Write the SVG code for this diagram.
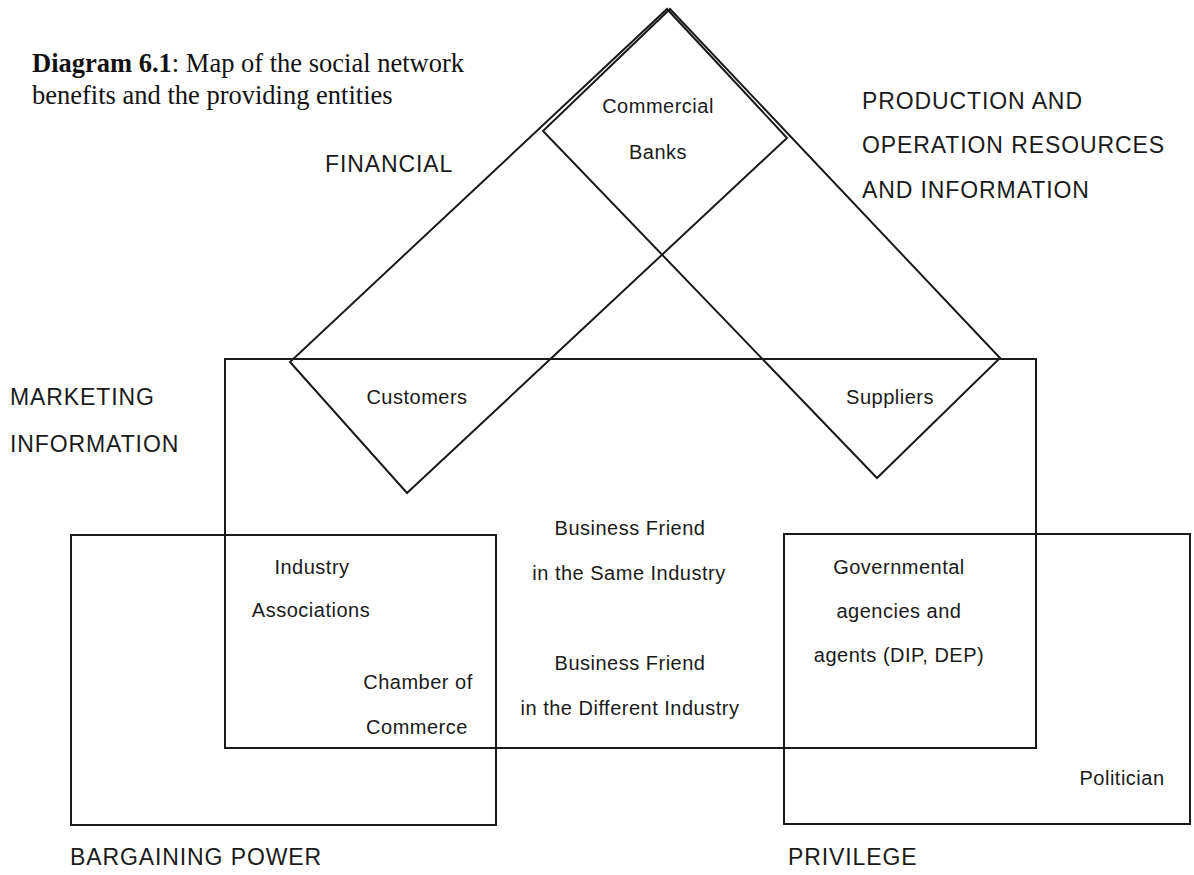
<svg xmlns="http://www.w3.org/2000/svg" width="1194" height="875" viewBox="0 0 1194 875">
  <style>
    .shape { fill: none; stroke: #1a1a1a; stroke-width: 2; stroke-linejoin: miter; }
    .label { font-family: "Liberation Sans", Arial, sans-serif; font-size: 20px; letter-spacing: 0.5px; fill: #1a1a1a; text-anchor: middle; }
    .cat { font-family: "Liberation Sans", Arial, sans-serif; font-size: 23px; letter-spacing: 0.9px; fill: #1a1a1a; }
    .title { font-family: "Liberation Serif", "Times New Roman", serif; font-size: 26.5px; fill: #111; }
  </style>
  <rect x="0" y="0" width="1194" height="875" fill="#ffffff"/>

  <!-- caption -->
  <text class="title" x="32" y="72"><tspan font-weight="bold">Diagram 6.1</tspan>: Map of the social network</text>
  <text class="title" x="32" y="104">benefits and the providing entities</text>

  <!-- benefit areas (outlines) -->
  <g id="connectors">
    <polygon id="financial-area" class="shape" points="667,9 787,138 407,493 290,362"/>
    <polygon id="production-area" class="shape" points="670,9 1000,358 877,478 543,131"/>
    <rect id="marketing-area" class="shape" x="225" y="359" width="811" height="389"/>
    <rect id="bargaining-area" class="shape" x="71" y="535" width="425" height="290"/>
    <rect id="privilege-area" class="shape" x="784" y="534" width="406" height="290"/>
  </g>

  <!-- benefit category labels -->
  <g id="cat-financial"><text class="cat" x="325" y="172">FINANCIAL</text></g>
  <g id="cat-production">
    <text class="cat" x="862" y="109">PRODUCTION AND</text>
    <text class="cat" x="862" y="153">OPERATION RESOURCES</text>
    <text class="cat" x="862" y="198">AND INFORMATION</text>
  </g>
  <g id="cat-marketing">
    <text class="cat" x="10" y="405">MARKETING</text>
    <text class="cat" x="10" y="452">INFORMATION</text>
  </g>
  <g id="cat-bargaining"><text class="cat" x="70" y="865">BARGAINING POWER</text></g>
  <g id="cat-privilege"><text class="cat" x="788" y="865">PRIVILEGE</text></g>

  <!-- providing entities -->
  <g id="commercial-banks">
    <text class="label" x="658" y="113">Commercial</text>
    <text class="label" x="658" y="159">Banks</text>
  </g>
  <g id="customers"><text class="label" x="417" y="404">Customers</text></g>
  <g id="suppliers"><text class="label" x="890" y="404">Suppliers</text></g>
  <g id="friend-same">
    <text class="label" x="630" y="535">Business Friend</text>
    <text class="label" x="629" y="580">in the Same Industry</text>
  </g>
  <g id="friend-different">
    <text class="label" x="630" y="670">Business Friend</text>
    <text class="label" x="630" y="715">in the Different Industry</text>
  </g>
  <g id="industry-associations">
    <text class="label" x="312" y="574">Industry</text>
    <text class="label" x="311" y="617">Associations</text>
  </g>
  <g id="chamber-of-commerce">
    <text class="label" x="418" y="689">Chamber of</text>
    <text class="label" x="417" y="734">Commerce</text>
  </g>
  <g id="governmental-agencies">
    <text class="label" x="899" y="574">Governmental</text>
    <text class="label" x="899" y="618">agencies and</text>
    <text class="label" x="899" y="662">agents (DIP, DEP)</text>
  </g>
  <g id="politician"><text class="label" x="1122" y="785">Politician</text></g>
</svg>
